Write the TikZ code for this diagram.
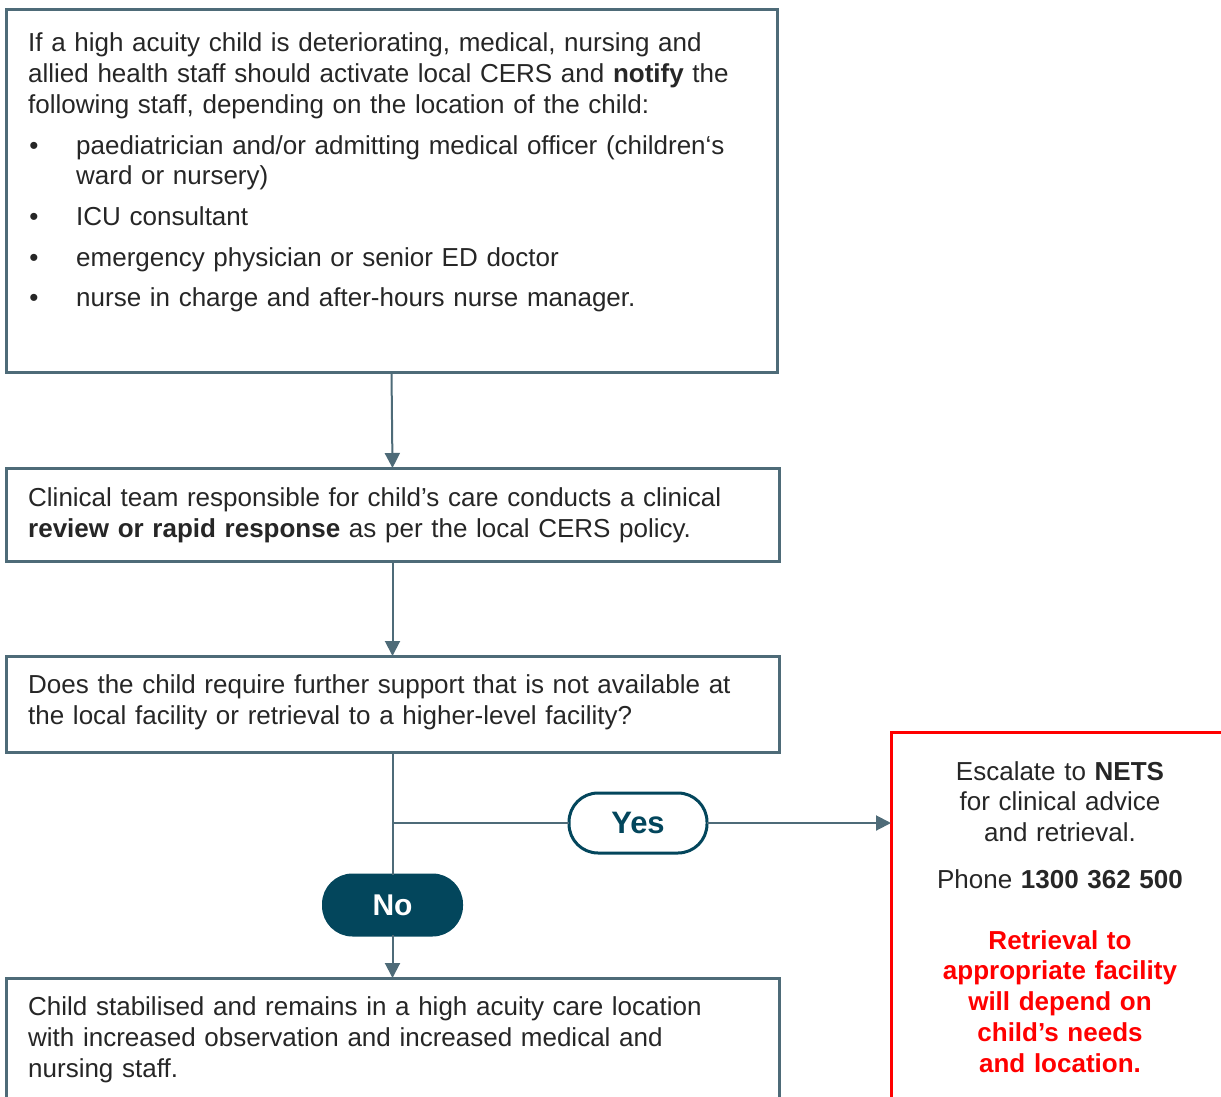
\documentclass[tikz,border=0pt]{standalone}
\usepackage{fontspec}
\setmainfont{Liberation Sans}
\usetikzlibrary{arrows.meta}
\definecolor{boxgray}{RGB}{78,107,120}
\definecolor{teal}{RGB}{3,70,92}
\definecolor{txt}{RGB}{38,38,38}
\definecolor{alertred}{RGB}{255,0,0}
\begin{document}
\begin{tikzpicture}[x=1pt,y=-1pt,
  flowbox/.style={draw=boxgray,line width=3pt,fill=white,rectangle,inner sep=0pt,outer sep=0pt},
  redbox/.style={draw=alertred,line width=3pt,fill=white,rectangle,inner sep=0pt,outer sep=0pt},
  para/.style={anchor=base west,inner sep=0pt,text=txt,text width=760pt,align=left,
    font=\fontsize{26}{31}\selectfont},
  cpara/.style={anchor=base,inner sep=0pt,text=txt,text width=320pt,align=center,
    font=\fontsize{26}{30.7}\selectfont},
  bul/.style={anchor=base,inner sep=0pt,text=txt,font=\fontsize{26}{31}\selectfont},
  conn/.style={draw=boxgray,line width=2pt},
  arr/.style={conn,-{Triangle[length=15pt,width=15pt]}},
  pill/.style={rectangle,rounded corners=29pt,minimum width=138pt,minimum height=60pt,
    line width=3pt,inner sep=0pt,outer sep=0pt}
]
\clip (0,0) rectangle (1221,1097);
% boxes
\node[flowbox,minimum width=771pt,minimum height=362pt,anchor=north west] (b1) at (6,10) {};
\node[flowbox,minimum width=773pt,minimum height=93pt,anchor=north west] (b2) at (6,468) {};
\node[flowbox,minimum width=773pt,minimum height=96pt,anchor=north west] (b3) at (6,656) {};
\node[flowbox,minimum width=773pt,minimum height=140pt,anchor=north west] (b4) at (6,978) {};
\node[redbox,minimum width=360pt,minimum height=400pt,anchor=north west] (red) at (891,732) {};
% box 1 text
\node[para] (t1) at (28,52) {If a high acuity child is deteriorating, medical, nursing and\\
allied health staff should activate local CERS and \textbf{notify} the\\
following staff, depending on the location of the child:};
\node[bul] (d1) at (34,154) {•};
\node[para] (i1) at (76,154) {paediatrician and/or admitting medical officer (children‘s\\ ward or nursery)};
\node[bul] (d2) at (34,225) {•};
\node[para] (i2) at (76,225) {ICU consultant};
\node[bul] (d3) at (34,266) {•};
\node[para] (i3) at (76,266) {emergency physician or senior ED doctor};
\node[bul] (d4) at (34,306) {•};
\node[para] (i4) at (76,306) {nurse in charge and after-hours nurse manager.};
% box 2-4 text
\node[para] (t2) at (28,506) {Clinical team responsible for child’s care conducts a clinical\\
\textbf{review or rapid response} as per the local CERS policy.};
\node[para] (t3) at (28,693) {Does the child require further support that is not available at\\
the local facility or retrieval to a higher-level facility?};
\node[para] (t4) at (28,1015) {Child stabilised and remains in a high acuity care location\\
with increased observation and increased medical and\\
nursing staff.};
% red box text
\node[cpara] (r1) at (1060,780) {Escalate to \textbf{NETS}\\ for clinical advice\\ and retrieval.};
\node[cpara] (r2) at (1060,888) {Phone \textbf{1300 362 500}};
\node[cpara,text=alertred,font=\bfseries\fontsize{26}{30.8}\selectfont] (r3) at (1060,949)
  {Retrieval to\\ appropriate facility\\ will depend on\\ child’s needs\\ and location.};
% pills
\node[pill,draw=teal,fill=white,text=teal,font=\bfseries\fontsize{31}{34}\selectfont] (yes) at (638,823) {Yes};
\node[pill,draw=teal,fill=teal,text=white,font=\bfseries\fontsize{30}{34}\selectfont] (no) at (392.5,905) {No};
% connectors
\coordinate (br) at (392.5,823);
\draw[arr] (b1.south) -- (b2.north);
\draw[arr] (b2.south) -- (b3.north);
\draw[conn] (b3.south) -- (no.north);
\draw[arr] (no.south) -- (b4.north);
\draw[conn] (br) -- (yes.west);
\draw[arr] (yes.east) -- (yes.east -| red.west);
\end{tikzpicture}
\end{document}
